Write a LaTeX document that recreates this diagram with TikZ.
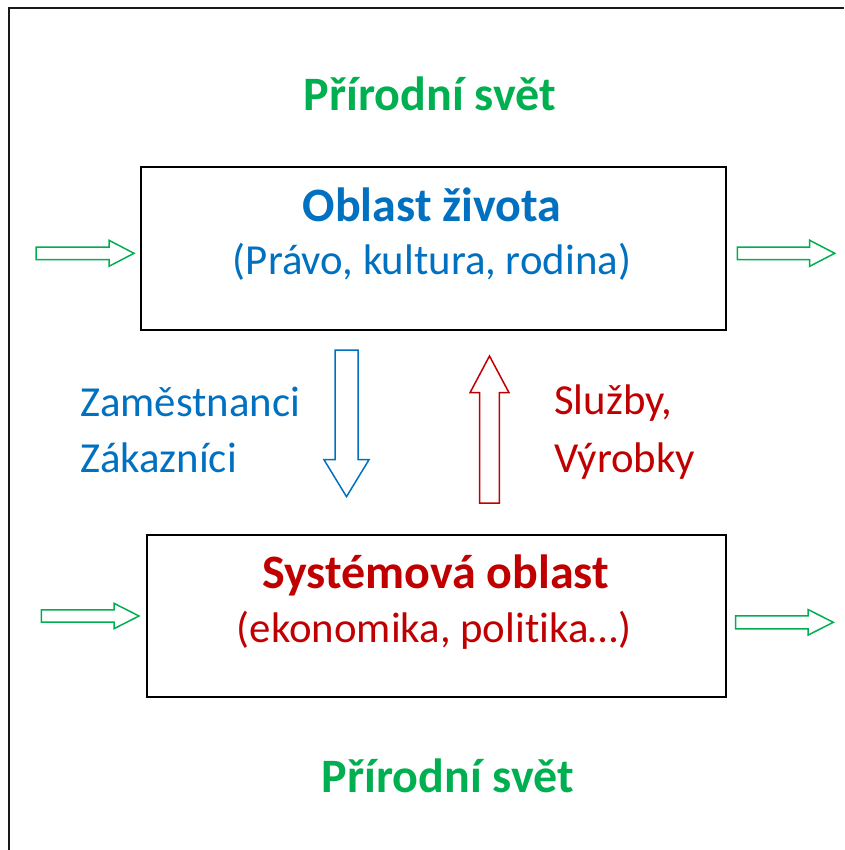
\documentclass[tikz,border=0pt]{standalone}
\usepackage{fontspec}
\setmainfont[Ligatures=NoCommon]{Carlito}
\definecolor{ogreen}{HTML}{00B050}
\definecolor{oblue}{HTML}{0070C0}
\definecolor{ored}{HTML}{C00000}
\newcommand\harr[7]{\draw[#7] (#1,#2-#5) -- (#3,#2-#5) -- (#3,#2-#6) -- (#4,#2) -- (#3,#2+#6) -- (#3,#2+#5) -- (#1,#2+#5) -- cycle;}
\newcommand\varr[7]{\draw[#7] (#1-#5,#2) -- (#1-#5,#3) -- (#1-#6,#3) -- (#1,#4) -- (#1+#6,#3) -- (#1+#5,#3) -- (#1+#5,#2) -- cycle;}
\begin{document}
\begin{tikzpicture}[x=1pt,y=-1pt,
  big/.style={font=\fontsize{48}{57}\selectfont\bfseries, inner sep=0pt},
  norm/.style={font=\fontsize{42.8}{51}\selectfont, inner sep=0pt},
  area/.style={draw=black, line width=2pt, fill=white, inner sep=0pt},
  blk/.style={line width=1.5pt, fill=white, line join=miter}]
\useasboundingbox (0,0) rectangle (844,850);
\draw[line width=2pt, draw=black!90] (8.5,850) -- (8.5,8.5) -- (844,8.5);
% boxes
\node[area, minimum width=585pt, minimum height=162pt, anchor=north west] (life) at (139.5,166.5) {};
\node[area, minimum width=579pt, minimum height=162pt, anchor=north west] (sys) at (145.5,533.5) {};
% texts
\node[big, text=ogreen, anchor=base] (nat1) at (430,111) {Přírodní svět};
\node[big, text=oblue, anchor=base] (lifet) at (432,222) {Oblast života};
\node[norm, text=oblue, anchor=base] (lifes) at (432,274) {(Právo, kultura, rodina)};
\node[big, text=ored, anchor=base] (syst) at (435.5,588) {Systémová oblast};
\node[norm, text=ored, anchor=base] (syss) at (434,642) {(ekonomika, politika…)};
\node[big, text=ogreen, anchor=base] (nat2) at (448,792) {Přírodní svět};
\node[norm, text=oblue, anchor=base west] (emp) at (80,416) {Zaměstnanci};
\node[norm, text=oblue, anchor=base west] (cust) at (80,472) {Zákazníci};
\node[norm, text=ored, anchor=base west] (serv) at (554,414) {Služby,};
\node[norm, text=ored, anchor=base west] (prod) at (554,472) {Výrobky};
% green block arrows
\harr{36}{253.3}{109}{134}{6.3}{13}{blk, draw=ogreen}
\harr{737.3}{253.3}{809.7}{834.7}{6.3}{13}{blk, draw=ogreen}
\harr{41.3}{616}{114}{139}{6.2}{12.7}{blk, draw=ogreen}
\harr{735.7}{622.3}{808}{833.3}{6.5}{12.8}{blk, draw=ogreen}
% vertical block arrows
\varr{346.5}{350}{459.7}{496.7}{11.5}{22.5}{blk, draw=oblue}
\varr{489.5}{503}{392.7}{356}{9.8}{19.5}{blk, draw=ored}
\end{tikzpicture}
\end{document}
